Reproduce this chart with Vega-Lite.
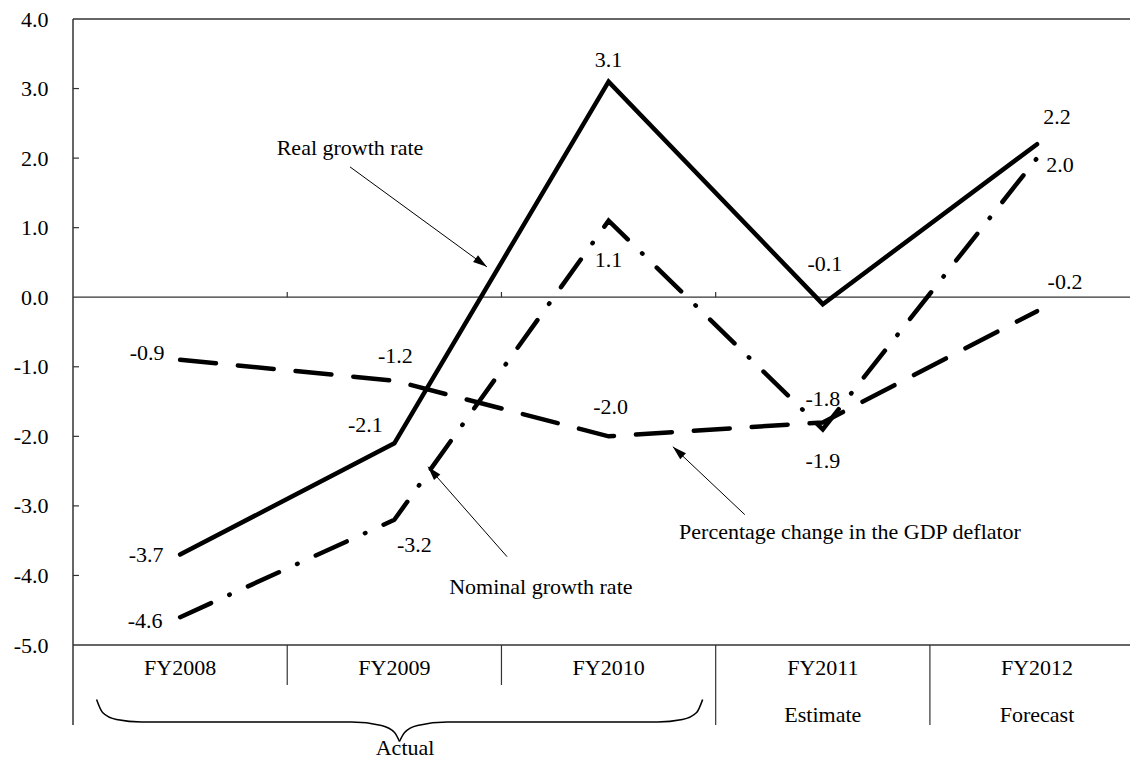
{
  "$schema": "https://vega.github.io/schema/vega-lite/v6.json",
  "width": 1057,
  "height": 626,
  "autosize": {"type": "none"},
  "padding": {"left": 73, "top": 19, "right": 0, "bottom": 115},
  "background": "white",
  "config": {
    "view": {"stroke": null},
    "font": "Liberation Serif",
    "mark": {"font": "Liberation Serif"},
    "text": {"font": "Liberation Serif", "fontSize": 22, "color": "black", "baseline": "middle", "align": "center"}
  },
  "datasets": {
    "series": [
      {"series": "real", "fy": 2008, "value": -3.7},
      {"series": "real", "fy": 2009, "value": -2.1},
      {"series": "real", "fy": 2010, "value": 3.1},
      {"series": "real", "fy": 2011, "value": -0.1},
      {"series": "real", "fy": 2012, "value": 2.2},
      {"series": "nominal", "fy": 2008, "value": -4.6},
      {"series": "nominal", "fy": 2009, "value": -3.2},
      {"series": "nominal", "fy": 2010, "value": 1.1},
      {"series": "nominal", "fy": 2011, "value": -1.9},
      {"series": "nominal", "fy": 2012, "value": 2.0},
      {"series": "deflator", "fy": 2008, "value": -0.9},
      {"series": "deflator", "fy": 2009, "value": -1.2},
      {"series": "deflator", "fy": 2010, "value": -2.0},
      {"series": "deflator", "fy": 2011, "value": -1.8},
      {"series": "deflator", "fy": 2012, "value": -0.2}
    ],
    "notes": [
      {"text": "Real growth rate", "tx": 2008.793, "ty": 2.147, "x0": 2008.793, "y0": 1.874, "x1": 2009.432, "y1": 0.437, "angle": 126},
      {"text": "Nominal growth rate", "tx": 2009.684, "ty": -4.161, "x0": 2009.526, "y0": -3.73, "x1": 2009.157, "y1": -2.437, "angle": 319},
      {"text": "Percentage change in the GDP deflator", "tx": 2011.127, "ty": -3.371, "x0": 2010.636, "y0": -3.126, "x1": 2010.3, "y1": -2.149, "angle": 313}
    ],
    "cats": [
      {"fy": 2008, "label": "FY2008"},
      {"fy": 2009, "label": "FY2009"},
      {"fy": 2010, "label": "FY2010"},
      {"fy": 2011, "label": "FY2011"},
      {"fy": 2012, "label": "FY2012"}
    ],
    "sub": [
      {"fy": 2011, "label": "Estimate"},
      {"fy": 2012, "label": "Forecast"}
    ],
    "brace": [
      {"part": "left", "fy": 2007.61, "y": -5.785},
      {"part": "left", "fy": 2007.638, "y": -5.971},
      {"part": "left", "fy": 2007.703, "y": -6.072},
      {"part": "left", "fy": 2007.82, "y": -6.108},
      {"part": "left", "fy": 2008.8, "y": -6.108},
      {"part": "left", "fy": 2008.94, "y": -6.158},
      {"part": "left", "fy": 2009.001, "y": -6.259},
      {"part": "left", "fy": 2009.024, "y": -6.388},
      {"part": "right", "fy": 2009.024, "y": -6.388},
      {"part": "right", "fy": 2009.048, "y": -6.259},
      {"part": "right", "fy": 2009.108, "y": -6.158},
      {"part": "right", "fy": 2009.248, "y": -6.108},
      {"part": "right", "fy": 2010.228, "y": -6.108},
      {"part": "right", "fy": 2010.345, "y": -6.072},
      {"part": "right", "fy": 2010.411, "y": -5.971},
      {"part": "right", "fy": 2010.439, "y": -5.785}
    ],
    "yticks": [{"v": 3}, {"v": 2}, {"v": 1}, {"v": -1}, {"v": -2}, {"v": -3}, {"v": -4}],
    "bounds": [{"b": 2008.5}, {"b": 2009.5}, {"b": 2010.5}, {"b": 2011.5}],
    "shortb": [{"b": 2008.5}, {"b": 2009.5}],
    "longb": [{"b": 2010.5}, {"b": 2011.5}],
    "one": [{"k": 1}]
  },
  "data": {"name": "series"},
  "layer": [
    {
      "data": {"name": "one"},
      "mark": {"type": "rule", "color": "#333333", "strokeWidth": 1.5},
      "encoding": {
        "x": {"datum": 2007.5, "type": "quantitative", "scale": {"domain": [2007.5, 2012.434], "nice": false, "zero": false}, "axis": null},
        "x2": {"datum": 2012.434},
        "y": {"datum": 4, "type": "quantitative", "scale": {"domain": [-5, 4], "nice": false, "zero": false},
          "axis": {"values": [-5, -4, -3, -2, -1, 0, 1, 2, 3, 4], "labelExpr": "replace(format(datum.value, '.1f'), '\u2212', '-')", "domain": false, "ticks": false, "grid": false, "labelFont": "Liberation Serif", "labelFontSize": 22, "labelColor": "black", "labelPadding": 25, "title": null}}
      }
    },
    {
      "data": {"name": "one"},
      "mark": {"type": "rule", "color": "#333333", "strokeWidth": 1.2},
      "encoding": {"x": {"datum": 2007.5}, "x2": {"datum": 2012.434}, "y": {"datum": 0}}
    },
    {
      "data": {"name": "one"},
      "mark": {"type": "rule", "color": "#333333", "strokeWidth": 1.5},
      "encoding": {"x": {"datum": 2007.5}, "x2": {"datum": 2012.434}, "y": {"datum": -5}}
    },
    {
      "data": {"name": "one"},
      "mark": {"type": "rule", "color": "#333333", "strokeWidth": 1.5},
      "encoding": {"x": {"datum": 2007.5}, "y": {"datum": 4}, "y2": {"datum": -6.15}}
    },
    {
      "data": {"name": "yticks"},
      "mark": {"type": "rule", "color": "#333333", "strokeWidth": 1.2},
      "encoding": {"x": {"datum": 2007.5}, "x2": {"datum": 2007.528}, "y": {"field": "v", "type": "quantitative"}}
    },
    {
      "data": {"name": "bounds"},
      "mark": {"type": "rule", "color": "#333333", "strokeWidth": 1.2},
      "encoding": {"x": {"field": "b", "type": "quantitative"}, "y": {"datum": 0}, "y2": {"datum": 0.075}}
    },
    {
      "data": {"name": "shortb"},
      "mark": {"type": "rule", "color": "#333333", "strokeWidth": 1.2},
      "encoding": {"x": {"field": "b", "type": "quantitative"}, "y": {"datum": -5}, "y2": {"datum": -5.575}}
    },
    {
      "data": {"name": "longb"},
      "mark": {"type": "rule", "color": "#333333", "strokeWidth": 1.2},
      "encoding": {"x": {"field": "b", "type": "quantitative"}, "y": {"datum": -5}, "y2": {"datum": -6.15}}
    },
    {
      "mark": {"type": "line", "color": "black", "strokeWidth": 4.5, "strokeCap": "round", "strokeJoin": "miter"},
      "encoding": {
        "x": {"field": "fy", "type": "quantitative"},
        "y": {"field": "value", "type": "quantitative"},
        "detail": {"field": "series"},
        "strokeDash": {"field": "series", "type": "nominal", "scale": {"domain": ["real", "nominal", "deflator"], "range": [[4000, 1], [34, 20, 0.5, 20], [36, 22]]}, "legend": null}
      }
    },
    {"transform": [{"filter": "datum.series=='real' && datum.fy==2008"}, {"calculate": "replace(format(datum.value, '.1f'), '\u2212', '-')", "as": "lab"}], "mark": {"type": "text", "font": "Liberation Serif", "dx": -34, "dy": 0}, "encoding": {"x": {"field": "fy", "type": "quantitative"}, "y": {"field": "value", "type": "quantitative"}, "text": {"field": "lab"}}},
    {"transform": [{"filter": "datum.series=='real' && datum.fy==2009"}, {"calculate": "replace(format(datum.value, '.1f'), '\u2212', '-')", "as": "lab"}], "mark": {"type": "text", "font": "Liberation Serif", "dx": -29, "dy": -18}, "encoding": {"x": {"field": "fy", "type": "quantitative"}, "y": {"field": "value", "type": "quantitative"}, "text": {"field": "lab"}}},
    {"transform": [{"filter": "datum.series=='real' && datum.fy==2010"}, {"calculate": "replace(format(datum.value, '.1f'), '\u2212', '-')", "as": "lab"}], "mark": {"type": "text", "font": "Liberation Serif", "dx": 0, "dy": -22}, "encoding": {"x": {"field": "fy", "type": "quantitative"}, "y": {"field": "value", "type": "quantitative"}, "text": {"field": "lab"}}},
    {"transform": [{"filter": "datum.series=='real' && datum.fy==2011"}, {"calculate": "replace(format(datum.value, '.1f'), '\u2212', '-')", "as": "lab"}], "mark": {"type": "text", "font": "Liberation Serif", "dx": 2, "dy": -40}, "encoding": {"x": {"field": "fy", "type": "quantitative"}, "y": {"field": "value", "type": "quantitative"}, "text": {"field": "lab"}}},
    {"transform": [{"filter": "datum.series=='real' && datum.fy==2012"}, {"calculate": "replace(format(datum.value, '.1f'), '\u2212', '-')", "as": "lab"}], "mark": {"type": "text", "font": "Liberation Serif", "dx": 20, "dy": -27}, "encoding": {"x": {"field": "fy", "type": "quantitative"}, "y": {"field": "value", "type": "quantitative"}, "text": {"field": "lab"}}},
    {"transform": [{"filter": "datum.series=='nominal' && datum.fy==2008"}, {"calculate": "replace(format(datum.value, '.1f'), '\u2212', '-')", "as": "lab"}], "mark": {"type": "text", "font": "Liberation Serif", "dx": -35, "dy": 4}, "encoding": {"x": {"field": "fy", "type": "quantitative"}, "y": {"field": "value", "type": "quantitative"}, "text": {"field": "lab"}}},
    {"transform": [{"filter": "datum.series=='nominal' && datum.fy==2009"}, {"calculate": "replace(format(datum.value, '.1f'), '\u2212', '-')", "as": "lab"}], "mark": {"type": "text", "font": "Liberation Serif", "dx": 20, "dy": 25}, "encoding": {"x": {"field": "fy", "type": "quantitative"}, "y": {"field": "value", "type": "quantitative"}, "text": {"field": "lab"}}},
    {"transform": [{"filter": "datum.series=='nominal' && datum.fy==2010"}, {"calculate": "replace(format(datum.value, '.1f'), '\u2212', '-')", "as": "lab"}], "mark": {"type": "text", "font": "Liberation Serif", "dx": 0, "dy": 39}, "encoding": {"x": {"field": "fy", "type": "quantitative"}, "y": {"field": "value", "type": "quantitative"}, "text": {"field": "lab"}}},
    {"transform": [{"filter": "datum.series=='nominal' && datum.fy==2011"}, {"calculate": "replace(format(datum.value, '.1f'), '\u2212', '-')", "as": "lab"}], "mark": {"type": "text", "font": "Liberation Serif", "dx": 0, "dy": 32}, "encoding": {"x": {"field": "fy", "type": "quantitative"}, "y": {"field": "value", "type": "quantitative"}, "text": {"field": "lab"}}},
    {"transform": [{"filter": "datum.series=='nominal' && datum.fy==2012"}, {"calculate": "replace(format(datum.value, '.1f'), '\u2212', '-')", "as": "lab"}], "mark": {"type": "text", "font": "Liberation Serif", "dx": 23, "dy": 7}, "encoding": {"x": {"field": "fy", "type": "quantitative"}, "y": {"field": "value", "type": "quantitative"}, "text": {"field": "lab"}}},
    {"transform": [{"filter": "datum.series=='deflator' && datum.fy==2008"}, {"calculate": "replace(format(datum.value, '.1f'), '\u2212', '-')", "as": "lab"}], "mark": {"type": "text", "font": "Liberation Serif", "dx": -33, "dy": -7}, "encoding": {"x": {"field": "fy", "type": "quantitative"}, "y": {"field": "value", "type": "quantitative"}, "text": {"field": "lab"}}},
    {"transform": [{"filter": "datum.series=='deflator' && datum.fy==2009"}, {"calculate": "replace(format(datum.value, '.1f'), '\u2212', '-')", "as": "lab"}], "mark": {"type": "text", "font": "Liberation Serif", "dx": 1, "dy": -25}, "encoding": {"x": {"field": "fy", "type": "quantitative"}, "y": {"field": "value", "type": "quantitative"}, "text": {"field": "lab"}}},
    {"transform": [{"filter": "datum.series=='deflator' && datum.fy==2010"}, {"calculate": "replace(format(datum.value, '.1f'), '\u2212', '-')", "as": "lab"}], "mark": {"type": "text", "font": "Liberation Serif", "dx": 2, "dy": -29}, "encoding": {"x": {"field": "fy", "type": "quantitative"}, "y": {"field": "value", "type": "quantitative"}, "text": {"field": "lab"}}},
    {"transform": [{"filter": "datum.series=='deflator' && datum.fy==2011"}, {"calculate": "replace(format(datum.value, '.1f'), '\u2212', '-')", "as": "lab"}], "mark": {"type": "text", "font": "Liberation Serif", "dx": 0, "dy": -23}, "encoding": {"x": {"field": "fy", "type": "quantitative"}, "y": {"field": "value", "type": "quantitative"}, "text": {"field": "lab"}}},
    {"transform": [{"filter": "datum.series=='deflator' && datum.fy==2012"}, {"calculate": "replace(format(datum.value, '.1f'), '\u2212', '-')", "as": "lab"}], "mark": {"type": "text", "font": "Liberation Serif", "dx": 28, "dy": -29}, "encoding": {"x": {"field": "fy", "type": "quantitative"}, "y": {"field": "value", "type": "quantitative"}, "text": {"field": "lab"}}},
    {
      "data": {"name": "notes"},
      "mark": {"type": "rule", "color": "black", "strokeWidth": 1},
      "encoding": {"x": {"field": "x0", "type": "quantitative"}, "y": {"field": "y0", "type": "quantitative"}, "x2": {"field": "x1"}, "y2": {"field": "y1"}}
    },
    {
      "data": {"name": "notes"},
      "mark": {"type": "point", "shape": "M0,0L0.6,2L-0.6,2Z", "filled": true, "color": "black", "size": 196, "opacity": 1},
      "encoding": {"x": {"field": "x1", "type": "quantitative"}, "y": {"field": "y1", "type": "quantitative"}, "angle": {"field": "angle", "type": "quantitative", "scale": null}}
    },
    {
      "data": {"name": "notes"},
      "mark": {"type": "text", "font": "Liberation Serif"},
      "encoding": {"x": {"field": "tx", "type": "quantitative"}, "y": {"field": "ty", "type": "quantitative"}, "text": {"field": "text"}}
    },
    {
      "data": {"name": "cats"},
      "mark": {"type": "text", "font": "Liberation Serif"},
      "encoding": {"x": {"field": "fy", "type": "quantitative"}, "y": {"datum": -5.33}, "text": {"field": "label"}}
    },
    {
      "data": {"name": "sub"},
      "mark": {"type": "text", "font": "Liberation Serif"},
      "encoding": {"x": {"field": "fy", "type": "quantitative"}, "y": {"datum": -6.0}, "text": {"field": "label"}}
    },
    {
      "data": {"name": "one"},
      "mark": {"type": "text", "font": "Liberation Serif", "text": "Actual"},
      "encoding": {"x": {"datum": 2009.05}, "y": {"datum": -6.48}}
    },
    {
      "data": {"name": "brace"},
      "mark": {"type": "line", "color": "black", "strokeWidth": 1.5, "interpolate": "monotone"},
      "encoding": {"x": {"field": "fy", "type": "quantitative"}, "y": {"field": "y", "type": "quantitative"}, "detail": {"field": "part"}}
    }
  ]
}
